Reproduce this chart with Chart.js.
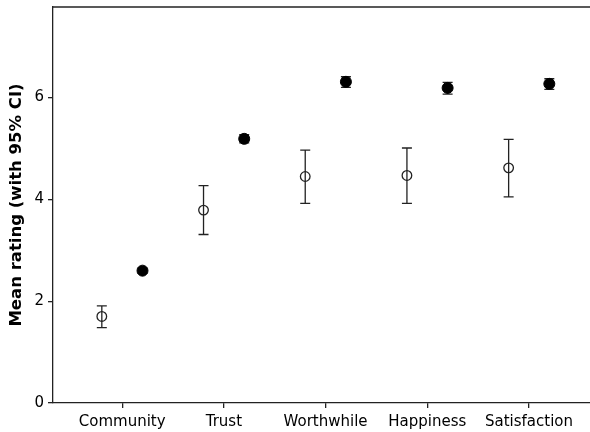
<!DOCTYPE html>
<html>
<head>
<meta charset="utf-8">
<script src="https://cdn.jsdelivr.net/npm/chart.js@4/dist/chart.umd.min.js"></script>
<style>
  html, body { margin: 0; padding: 0; background: #fff; }
  #wrap { width: 590px; height: 432px; }
</style>
</head>
<body>
<div id="wrap"><canvas id="chart" width="590" height="432"></canvas></div>
<script>
// ===== DATA =====
const categories = ["Community", "Trust", "Worthwhile", "Happiness", "Satisfaction"];
const openMean = [1.70, 3.79, 4.45, 4.47, 4.62];
const openLow = [1.48, 3.31, 3.92, 3.92, 4.05];
const openHigh = [1.91, 4.27, 4.97, 5.01, 5.18];
const filledMean = [2.60, 5.19, 6.31, 6.19, 6.27];
const filledLow = [2.55, 5.11, 6.20, 6.07, 6.16];
const filledHigh = [2.65, 5.27, 6.41, 6.30, 6.37];
const yTicks = [0, 2, 4, 6];

const FONT = "'DejaVu Sans', Verdana, sans-serif";
const INK = "#222";

// ===== ERROR BARS + FRAME =====
const errorBars = {
  id: "errorBars",
  beforeDatasetsDraw(chart) {
    const ctx = chart.ctx;
    const y = chart.scales.y;
    ctx.save();
    ctx.strokeStyle = INK;
    ctx.lineWidth = 1.3;
    chart.data.datasets.forEach((ds, d) => {
      const meta = chart.getDatasetMeta(d);
      meta.data.forEach((pt, i) => {
        const top = y.getPixelForValue(ds.errHigh[i]);
        const bot = y.getPixelForValue(ds.errLow[i]);
        const cap = 5;
        ctx.beginPath();
        ctx.moveTo(pt.x, top);
        ctx.lineTo(pt.x, bot);
        ctx.moveTo(pt.x - cap, top);
        ctx.lineTo(pt.x + cap, top);
        ctx.moveTo(pt.x - cap, bot);
        ctx.lineTo(pt.x + cap, bot);
        ctx.stroke();
      });
    });
    ctx.restore();
  },
  afterDraw(chart) {
    // top frame line
    const ctx = chart.ctx;
    const a = chart.chartArea;
    ctx.save();
    ctx.strokeStyle = INK;
    ctx.lineWidth = 1.3;
    ctx.beginPath();
    ctx.moveTo(a.left, a.top);
    ctx.lineTo(a.right, a.top);
    ctx.stroke();
    ctx.restore();
  },
};

// ===== CHART =====
const ctx = document.getElementById("chart").getContext("2d");

new Chart(ctx, {
  type: "scatter",
  data: {
    datasets: [
      {
        data: categories.map((c, i) => ({ x: i - 0.2, y: openMean[i] })),
        errLow: openLow,
        errHigh: openHigh,
        pointStyle: "circle",
        pointRadius: 4.8,
        pointBorderWidth: 1.3,
        pointBorderColor: INK,
        pointBackgroundColor: "rgba(255,255,255,0)",
      },
      {
        data: categories.map((c, i) => ({ x: i + 0.2, y: filledMean[i] })),
        errLow: filledLow,
        errHigh: filledHigh,
        pointStyle: "circle",
        pointRadius: 5.5,
        pointBorderWidth: 1,
        pointBorderColor: "#000",
        pointBackgroundColor: "#000",
      },
    ],
  },
  options: {
    responsive: false,
    animation: false,
    layout: { autoPadding: false, padding: { top: 7, right: 0, left: 0, bottom: 0 } },
    plugins: { legend: { display: false }, tooltip: { enabled: false } },
    scales: {
      x: {
        type: "linear",
        min: -0.68,
        max: 4.6,
        afterBuildTicks: (s) => { s.ticks = categories.map((c, i) => ({ value: i })); },
        afterFit: (s) => { s.height = 29; s.paddingLeft = 0; s.paddingRight = 0; },
        ticks: {
          callback: (v) => categories[v],
          font: { family: FONT, size: 15 },
          color: "#000",
          padding: 5,
          maxRotation: 0,
        },
        grid: { drawOnChartArea: false, drawTicks: true, tickLength: 5, color: INK, lineWidth: 1.3 },
        border: { display: true, color: INK, width: 1.3 },
      },
      y: {
        min: 0,
        max: 7.78,
        afterBuildTicks: (s) => { s.ticks = yTicks.map((v) => ({ value: v })); },
        afterFit: (s) => { s.width = 53; s.paddingTop = 0; s.paddingBottom = 0; },
        ticks: {
          font: { family: FONT, size: 15 },
          color: "#000",
          padding: 4,
        },
        grid: { drawOnChartArea: false, drawTicks: true, tickLength: 5, color: INK, lineWidth: 1.3 },
        border: { display: true, color: INK, width: 1.3 },
        title: {
          display: true,
          text: "Mean rating (with 95% CI)",
          font: { family: FONT, size: 16.5, weight: "bold" },
          color: "#000",
          padding: { top: 7, bottom: 0 },
        },
      },
    },
  },
  plugins: [errorBars],
});
</script>
</body>
</html>
